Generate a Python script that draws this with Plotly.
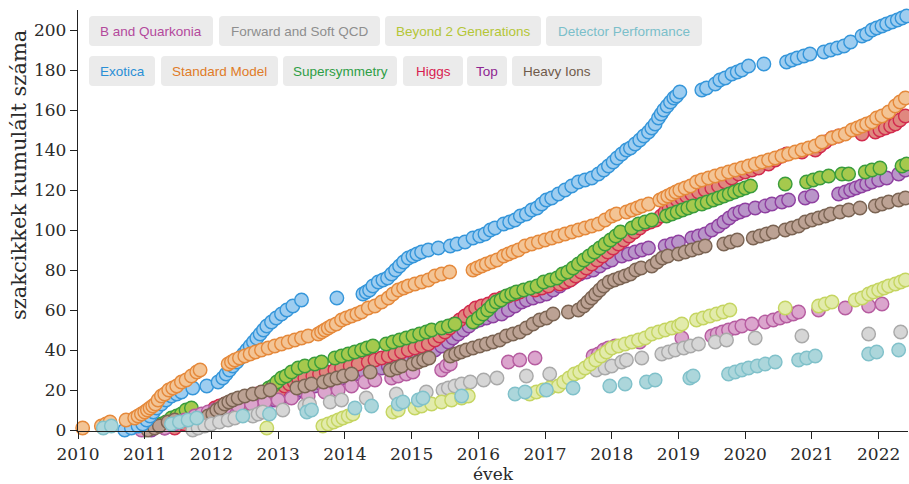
import plotly.graph_objects as go

# ---------------- data: (year, cumulative paper count) ----------------
EXOTICA = [(2010.70,0),(2010.80,1),(2010.90,2),(2010.97,3),(2011.03,5),(2011.08,7),(2011.13,9),(2011.18,11),(2011.25,13),(2011.32,15),(2011.40,17),(2011.48,18),(2011.55,19),(2011.72,21),(2011.93,22),(2012.10,24),(2012.17,26),(2012.22,28),(2012.27,30),(2012.32,32),(2012.38,34),(2012.43,36),(2012.48,38),(2012.53,40),(2012.58,42),(2012.63,44),(2012.68,46),(2012.73,48),(2012.78,50),(2012.83,52),(2012.90,54),(2012.97,56),(2013.05,58),(2013.13,60),(2013.22,62),(2013.35,65),(2013.88,66),
    (2014.27,68),(2014.32,69),(2014.37,70),(2014.42,72),(2014.50,74),(2014.57,75),(2014.64,76),(2014.70,78),(2014.76,80),(2014.82,82),(2014.88,84),(2014.95,86),(2015.02,87),(2015.08,88),(2015.15,89),(2015.25,90),(2015.40,91),
    (2015.58,92),(2015.68,93),(2015.80,94),(2015.92,96),(2016.02,97),(2016.10,98),(2016.18,100),(2016.25,101),(2016.38,103),(2016.47,104),(2016.55,105),(2016.63,107),(2016.72,108),(2016.80,110),(2016.88,111),(2016.95,113),(2017.02,115),(2017.10,116),(2017.20,118),(2017.30,120),(2017.40,122),(2017.50,124),(2017.60,125),(2017.70,126),(2017.80,128),(2017.88,130),(2017.95,132),(2018.02,134),(2018.08,136),(2018.15,138),(2018.22,140),(2018.28,141),(2018.35,143),(2018.42,145),(2018.48,147),(2018.55,149),(2018.60,151),(2018.65,153),(2018.70,156),(2018.74,158),(2018.78,160),(2018.83,162),(2018.88,164),(2018.93,166),(2018.97,167),(2019.02,169),
    (2019.35,170),(2019.42,171),(2019.55,173),(2019.62,175),(2019.70,176),(2019.80,178),(2019.88,179),(2019.95,180),(2020.05,182),(2020.28,183),
    (2020.62,184),(2020.70,185),(2020.78,186),(2020.88,187),(2020.97,188),(2021.18,189),(2021.28,190),(2021.38,191),(2021.48,192),(2021.58,194),(2021.75,197),(2021.82,198),(2021.90,200),(2021.97,201),(2022.05,202),(2022.12,203),(2022.20,204),(2022.28,205),(2022.35,206),(2022.42,207)]

STANDARD_MODEL = [(2010.07,1),(2010.35,2),(2010.42,3),(2010.48,4),(2010.72,5),(2010.85,6),(2010.90,7),(2010.95,8),(2011.00,9),(2011.04,10),(2011.08,11),(2011.12,12),(2011.16,13),(2011.20,15),(2011.25,17),(2011.30,18),(2011.36,20),(2011.42,21),(2011.48,22),(2011.55,24),(2011.62,25),(2011.70,27),(2011.78,29),(2011.83,30),
    (2012.25,33),(2012.30,34),(2012.35,35),(2012.42,36),(2012.50,37),(2012.58,38),(2012.66,39),(2012.75,40),(2012.85,41),(2012.95,42),(2013.05,43),(2013.15,44),(2013.25,45),(2013.35,46),(2013.45,47),
    (2013.60,48),(2013.65,49),(2013.70,50),(2013.75,51),(2013.80,52),(2013.87,53),(2013.95,55),(2014.02,56),(2014.10,57),(2014.18,58),(2014.25,59),(2014.35,61),(2014.45,62),(2014.55,64),(2014.65,66),(2014.72,68),(2014.80,70),(2014.88,71),(2014.95,72),(2015.05,73),(2015.15,74),(2015.25,75),(2015.35,77),(2015.45,78),(2015.57,79),
    (2015.92,80),(2015.98,81),(2016.05,82),(2016.12,83),(2016.20,84),(2016.28,85),(2016.38,87),(2016.45,88),(2016.52,89),(2016.60,90),(2016.70,92),(2016.80,93),(2016.90,94),(2017.00,95),(2017.10,96),(2017.20,97),(2017.30,98),(2017.40,99),(2017.50,100),(2017.60,101),(2017.70,102),(2017.80,103),(2017.90,105),(2018.00,107),(2018.07,108),
    (2018.22,109),(2018.30,110),(2018.38,111),(2018.45,112),(2018.55,113),
    (2018.72,115),(2018.78,116),(2018.84,117),(2018.90,118),(2018.96,119),(2019.02,120),(2019.10,121),(2019.18,122),(2019.27,124),(2019.35,125),(2019.45,126),(2019.55,127),(2019.65,128),(2019.75,129),(2019.85,130),(2019.95,131),(2020.05,132),(2020.15,133),(2020.25,134),(2020.35,135),(2020.45,136),(2020.55,137),(2020.65,138),(2020.75,139),(2020.85,140),(2020.95,141),(2021.05,142),(2021.15,144),
    (2021.30,146),(2021.40,147),(2021.50,148),(2021.60,150),(2021.68,151),(2021.75,152),(2021.82,153),(2021.90,154),(2021.97,156),(2022.05,157),(2022.15,159),(2022.25,162),(2022.32,164),(2022.40,166)]

SUPERSYMMETRY = [(2011.00,0),(2011.10,1),(2011.18,2),(2011.25,3),(2011.32,4),(2011.40,6),(2011.48,7),(2011.55,8),(2011.62,10),(2011.70,11),
    (2012.50,12),(2012.56,13),(2012.62,15),(2012.68,16),(2012.74,18),(2012.80,19),(2012.86,21),(2012.92,22),(2012.98,24),(2013.05,26),(2013.12,27),(2013.20,29),(2013.30,31),(2013.40,32),(2013.55,33),(2013.65,34),
    (2013.85,36),(2013.95,37),(2014.05,38),(2014.15,39),(2014.25,40),(2014.33,41),(2014.42,42),(2014.62,43),(2014.72,44),(2014.82,45),(2014.92,46),(2015.02,47),(2015.12,48),(2015.22,49),(2015.30,50),(2015.45,51),(2015.55,52),(2015.65,53),
    (2015.92,54),(2016.00,56),(2016.07,58),(2016.14,60),(2016.20,62),(2016.27,64),(2016.34,65),(2016.42,67),(2016.50,68),(2016.57,69),(2016.68,70),(2016.78,71),(2016.88,72),(2016.98,74),(2017.08,75),(2017.18,76),(2017.26,78),(2017.34,79),(2017.42,81),(2017.50,83),(2017.58,85),(2017.66,87),(2017.74,89),(2017.82,91),(2017.90,93),(2017.98,95),(2018.06,97),(2018.13,99),
    (2018.30,101),(2018.40,103),(2018.50,104),(2018.60,105),(2018.82,107),(2018.90,108),(2018.98,109),(2019.06,110),(2019.14,111),(2019.22,112),(2019.35,113),(2019.43,114),(2019.52,115),(2019.60,116),(2019.68,117),(2019.76,118),(2019.84,119),(2019.92,120),(2020.00,121),(2020.08,122),
    (2020.60,123),(2020.92,124),(2021.02,125),(2021.12,126),(2021.25,127),(2021.45,128),(2021.55,128),(2021.80,129),(2021.90,130),(2022.02,131),(2022.35,132),(2022.42,133)]

HIGGS = [(2011.45,1),(2011.60,3),(2011.75,5),(2011.88,7),(2011.98,9),(2012.05,11),(2012.12,12),(2012.20,13),(2012.30,14),(2012.40,15),(2012.50,16),(2012.60,17),(2012.68,18),
    (2012.97,19),(2013.03,20),(2013.10,22),(2013.17,23),(2013.24,24),(2013.31,25),(2013.40,26),(2013.52,27),(2013.62,28),(2013.72,29),(2013.85,30),(2013.95,31),(2014.08,32),(2014.20,33),(2014.35,34),(2014.45,35),(2014.55,36),(2014.65,37),(2014.75,38),(2014.85,39),(2014.95,40),(2015.05,41),(2015.15,42),(2015.25,43),(2015.35,45),(2015.42,47),(2015.50,49),(2015.57,51),(2015.64,53),(2015.72,55),(2015.80,57),(2015.88,59),(2015.96,61),(2016.05,62),(2016.15,63),(2016.25,65),(2016.35,66),(2016.45,67),(2016.55,68),(2016.62,69),
    (2016.85,70),(2016.95,71),(2017.05,72),(2017.22,73),(2017.30,74),(2017.38,75),(2017.46,77),(2017.54,79),(2017.62,81),(2017.70,83),(2017.78,85),(2017.86,87),(2017.94,89),(2018.02,91),(2018.10,93),(2018.18,95),(2018.26,97),(2018.34,99),(2018.42,101),(2018.50,103),(2018.58,104),(2018.66,105),(2018.74,107),(2018.80,109),(2018.86,111),(2018.92,113),(2018.98,115),(2019.05,116),(2019.12,117),(2019.20,118),(2019.30,119),(2019.40,120),(2019.50,121),(2019.60,122),(2019.70,124),(2019.80,126),(2019.90,128),(2020.00,129),(2020.10,130),(2020.20,131),(2020.35,133),(2020.45,135),(2020.55,137),(2020.62,138),
    (2020.85,139),(2021.05,140),(2021.12,142),(2021.20,144),(2021.30,146),(2021.40,147),(2021.75,148),(2021.95,149),(2022.02,150),(2022.10,151),(2022.18,152),(2022.25,153),(2022.32,155),(2022.40,157)]

TOP = [(2011.10,0),(2011.30,1),(2011.60,3),(2011.90,5),(2012.05,7),(2012.15,8),(2012.30,9),(2012.45,10),(2012.55,11),(2012.65,12),(2012.75,13),(2012.85,14),(2012.95,15),(2013.05,16),(2013.15,17),(2013.25,18),(2013.35,20),(2013.45,21),(2013.55,22),(2013.65,23),(2013.75,24),(2013.85,25),(2013.95,26),(2014.05,27),(2014.15,28),(2014.30,29),(2014.45,30),(2014.55,31),(2014.65,32),(2014.75,33),(2014.85,34),(2014.95,35),(2015.05,36),(2015.15,37),(2015.25,38),(2015.35,40),(2015.45,42),(2015.55,44),(2015.62,46),(2015.70,48),(2015.78,50),(2015.86,52),(2015.94,54),(2016.02,55),(2016.12,56),(2016.22,57),(2016.35,58),(2016.45,60),(2016.55,62),(2016.65,64),(2016.72,65),(2016.82,66),(2016.92,67),(2017.02,68),(2017.12,70),(2017.22,72),(2017.32,74),(2017.42,76),(2017.52,78),(2017.62,79),(2017.72,80),(2017.82,82),(2017.92,84),(2018.00,85),(2018.15,87),(2018.25,88),(2018.35,89),(2018.45,90),(2018.55,91),
    (2018.80,92),(2018.90,93),(2019.00,94),(2019.20,96),(2019.30,97),(2019.40,98),(2019.50,100),(2019.60,102),(2019.68,104),(2019.76,106),(2019.84,108),(2019.92,109),(2020.00,110),(2020.15,111),(2020.30,112),(2020.40,113),(2020.55,114),(2020.65,115),(2020.90,116),(2021.00,117),
    (2021.40,118),(2021.50,119),(2021.58,120),(2021.66,121),(2021.74,122),(2021.82,123),(2021.90,124),(2022.00,125),(2022.12,126),(2022.30,128),(2022.40,130)]

HEAVY_IONS = [(2011.05,0),(2011.15,1),(2011.22,2),(2011.35,4),(2011.45,5),(2011.95,7),(2012.02,8),(2012.08,10),(2012.14,11),(2012.20,13),(2012.26,14),(2012.32,15),(2012.40,16),(2012.50,17),(2012.62,18),(2012.75,19),(2012.88,20),
    (2013.28,21),(2013.40,22),(2013.50,23),(2013.68,24),(2013.78,25),(2013.88,26),(2013.98,27),(2014.10,28),(2014.38,29),(2014.68,30),(2014.78,31),(2014.85,32),(2015.02,33),(2015.10,34),(2015.18,35),(2015.26,36),(2015.58,37),(2015.66,38),(2015.74,39),(2015.82,40),(2015.92,41),(2016.02,42),(2016.12,43),(2016.22,44),(2016.32,45),(2016.42,47),(2016.52,48),(2016.62,49),(2016.72,51),(2016.82,53),(2016.92,55),(2017.02,56),(2017.12,58),
    (2017.35,59),(2017.50,60),(2017.58,62),(2017.64,64),(2017.70,66),(2017.76,68),(2017.82,70),(2017.88,72),(2017.96,74),(2018.04,75),(2018.12,76),(2018.20,77),(2018.28,78),(2018.36,80),(2018.44,81),(2018.60,82),(2018.68,84),(2018.76,86),(2018.84,87),(2019.00,88),(2019.10,89),(2019.20,90),(2019.30,91),(2019.40,92),(2019.68,93),(2019.78,94),(2019.88,95),
    (2020.12,96),(2020.22,97),(2020.32,98),(2020.42,99),(2020.60,100),(2020.70,101),(2020.80,102),(2020.90,104),(2021.00,105),(2021.10,106),(2021.20,107),(2021.28,108),(2021.42,109),(2021.55,110),(2021.72,111),(2021.95,112),(2022.05,113),(2022.15,114),(2022.30,115),(2022.40,116)]

B_QUARKONIA = [(2010.95,0),(2011.30,1),(2011.45,3),(2011.60,5),(2011.75,7),(2011.85,8),(2011.95,9),(2012.05,10),(2012.20,11),(2012.40,12),(2012.60,13),(2012.80,14),(2013.00,15),(2013.20,16),(2013.45,17),(2013.70,19),(2013.90,20),(2014.10,22),(2014.30,24),(2014.45,25),(2014.70,26),(2014.80,27),(2014.92,28),(2015.02,29),
    (2015.45,30),(2015.52,32),(2015.58,33),(2016.45,34),(2016.62,35),(2016.85,36),(2017.72,37),(2017.80,38),(2017.88,40),(2017.95,41),(2018.05,42),(2018.42,44),(2019.05,46),
    (2019.50,47),(2019.58,48),(2019.66,49),(2019.75,50),(2019.85,51),(2019.95,52),(2020.10,53),(2020.30,54),(2020.42,55),(2020.52,56),(2020.62,57),(2020.72,58),(2020.80,59),(2021.10,60),(2021.50,61),(2021.85,62),(2022.05,63)]

FORWARD_QCD = [(2011.72,0),(2011.80,1),(2011.90,2),(2012.00,3),(2012.12,4),(2012.25,5),(2012.35,6),(2012.62,7),(2012.70,8),(2012.77,9),(2013.07,10),(2013.40,12),(2013.47,13),(2013.78,14),(2013.95,15),(2014.32,16),(2014.77,18),(2015.22,19),(2015.47,20),(2015.55,21),(2015.65,22),(2015.75,23),(2015.88,24),(2016.08,25),(2016.28,26),(2016.72,27),(2017.07,28),
    (2017.77,30),(2017.90,31),(2018.00,32),(2018.15,34),(2018.22,35),(2018.45,36),(2018.75,38),(2018.85,39),(2018.95,40),(2019.08,41),(2019.18,42),(2019.30,43),(2019.55,44),(2019.72,45),(2020.15,46),(2020.85,47),(2021.85,48),(2022.33,49)]

BEYOND_2GEN = [(2012.83,1),(2013.67,2),(2013.75,3),(2013.83,4),(2013.90,5),(2013.97,6),(2014.05,7),(2014.12,8),(2014.72,9),(2014.80,10),(2015.05,11),(2015.15,12),(2015.30,13),(2015.45,14),(2015.60,15),(2015.75,16),(2015.85,17),
    (2016.77,18),(2016.87,19),(2016.97,20),(2017.07,21),(2017.20,22),(2017.28,24),(2017.36,26),(2017.44,28),(2017.52,29),(2017.60,31),(2017.68,33),(2017.76,35),(2017.84,37),(2017.92,39),(2018.00,41),(2018.10,42),(2018.20,43),(2018.30,44),(2018.40,45),(2018.50,46),(2018.60,48),(2018.70,49),(2018.80,50),(2018.90,51),(2019.00,52),(2019.05,53),
    (2019.27,55),(2019.37,56),(2019.47,57),(2019.57,58),(2019.67,59),(2019.77,60),(2020.60,61),(2021.10,62),(2021.20,63),(2021.30,64),(2021.65,65),(2021.75,66),(2021.85,68),(2021.92,69),(2022.00,70),(2022.08,71),(2022.15,72),(2022.25,73),(2022.33,74),(2022.40,75)]

DETECTOR_PERF = [(2010.38,1),(2010.50,2),(2011.40,3),(2011.52,4),(2011.65,5),(2011.78,6),(2012.47,7),(2012.87,8),(2013.43,9),(2013.50,10),(2014.15,11),(2014.40,12),(2014.80,13),(2014.87,14),(2015.10,15),(2015.17,16),(2015.75,17),(2016.55,18),(2016.70,19),(2017.02,20),(2017.42,21),(2017.97,22),(2018.20,23),(2018.52,24),(2018.65,25),
    (2019.17,26),(2019.22,27),(2019.75,28),(2019.85,29),(2019.95,30),(2020.05,31),(2020.18,32),(2020.30,33),(2020.45,34),(2020.80,35),(2020.92,36),(2021.05,37),(2021.85,38),(2021.97,39),(2022.30,40)]

CATEGORIES_ROW1 = ["B and Quarkonia", "Forward and Soft QCD", "Beyond 2 Generations", "Detector Performance"]
CATEGORIES_ROW2 = ["Exotica", "Standard Model", "Supersymmetry", "Higgs", "Top", "Heavy Ions"]
YEAR_TICKS = [2010, 2011, 2012, 2013, 2014, 2015, 2016, 2017, 2018, 2019, 2020, 2021, 2022]
COUNT_TICKS = [0, 20, 40, 60, 80, 100, 120, 140, 160, 180, 200]

# ---------------- style ----------------
STYLE = {  # name: (text colour, marker fill, marker outline)
    "B and Quarkonia": ("#b3499c", "#dba5cd", "#b65ca0"),
    "Forward and Soft QCD": ("#8e8e8e", "#d6d6d6", "#a9a9a9"),
    "Beyond 2 Generations": ("#b4c637", "#e2ebab", "#c5d561"),
    "Detector Performance": ("#7bbfca", "#acd6db", "#80c1ca"),
    "Exotica": ("#2a8fd6", "#9ecdf0", "#3596da"),
    "Standard Model": ("#e07b27", "#f3c495", "#e5893b"),
    "Supersymmetry": ("#2e9e45", "#a5c94d", "#3a9d3c"),
    "Higgs": ("#d81b50", "#e0887f", "#d22b4e"),
    "Top": ("#8e2591", "#b995c9", "#8f40a1"),
    "Heavy Ions": ("#6f5a4a", "#bca294", "#7b6453"),
}
SERIES = {
    "Top": TOP, "Higgs": HIGGS, "Supersymmetry": SUPERSYMMETRY, "B and Quarkonia": B_QUARKONIA,
    "Heavy Ions": HEAVY_IONS, "Forward and Soft QCD": FORWARD_QCD, "Beyond 2 Generations": BEYOND_2GEN,
    "Exotica": EXOTICA, "Standard Model": STANDARD_MODEL, "Detector Performance": DETECTOR_PERF,
}

W, H = 909, 484
ML, MR, MT, MB = 78, 1, 10, 53
PW, PH = W - ML - MR, H - MT - MB

def fx(px):
    return (px - ML) / PW

def fy(py):
    return (H - MB - py) / PH

SERIF = "DejaVu Serif"
SANS = "Liberation Sans, Arial, sans-serif"

fig = go.Figure()
for name, pts in SERIES.items():
    tc, fill, line = STYLE[name]
    fig.add_trace(go.Scatter(
        x=[p[0] for p in pts], y=[p[1] for p in pts], mode="markers", name=name,
        marker=dict(size=13.5, color=fill, line=dict(color=line, width=1.4)),
        cliponaxis=False, showlegend=False, hoverinfo="x+y+name"))

# legend-like buttons
BOX_ROW1 = [(89, 213), (219, 380), (385, 541), (546, 702)]
BOX_ROW2 = [(89, 155), (161, 278), (283, 397), (403, 463), (467, 507), (512, 602)]
shapes, annots = [], []

def rrect(x0, y0, x1, y1, r=4):
    P = lambda a, b: f"{fx(a):.5f},{fy(b):.5f}"
    return (f"M{P(x0+r,y0)} L{P(x1-r,y0)} Q{P(x1,y0)} {P(x1,y0+r)} L{P(x1,y1-r)} "
            f"Q{P(x1,y1)} {P(x1-r,y1)} L{P(x0+r,y1)} Q{P(x0,y1)} {P(x0,y1-r)} "
            f"L{P(x0,y0+r)} Q{P(x0,y0)} {P(x0+r,y0)} Z")

for names, boxes, (y0, y1) in [(CATEGORIES_ROW1, BOX_ROW1, (16, 46)), (CATEGORIES_ROW2, BOX_ROW2, (56, 86))]:
    for nm, (x0, x1) in zip(names, boxes):
        shapes.append(dict(type="path", xref="paper", yref="paper", path=rrect(x0, y0, x1, y1),
                           fillcolor="#ebebeb", line=dict(width=0), layer="above"))
        annots.append(dict(x=fx((x0 + x1) / 2), y=fy((y0 + y1) / 2), xref="paper", yref="paper",
                           text=nm, showarrow=False, xanchor="center", yanchor="middle",
                           font=dict(family=SANS, size=13.5, color=STYLE[nm][0])))

annots.append(dict(x=fx(19), y=fy(175), xref="paper", yref="paper", text="szakcikkek kumulált száma",
                   textangle=-90, showarrow=False, xanchor="center", yanchor="middle",
                   font=dict(family=SERIF, size=21, color="#2a2a2a")))
annots.append(dict(x=0.5, y=fy(485), xref="paper", yref="paper", text="évek", showarrow=False,
                   xanchor="center", yanchor="bottom", borderpad=0,
                   font=dict(family=SERIF, size=17, color="#2a2a2a")))

fig.update_layout(
    width=W, height=H, margin=dict(l=ML, r=MR, t=MT, b=MB, pad=0),
    paper_bgcolor="white", plot_bgcolor="white", showlegend=False,
    shapes=shapes, annotations=annots,
    xaxis=dict(range=[2010, 2022.44], tickvals=YEAR_TICKS, ticktext=[str(v) for v in YEAR_TICKS],
               showgrid=False, zeroline=False, showline=True, linecolor="#222", linewidth=1.3,
               ticks="outside", ticklen=7, tickwidth=1.3, tickcolor="#222",
               tickfont=dict(family=SERIF, size=17, color="#2a2a2a")),
    yaxis=dict(range=[-0.5, 210], tickvals=COUNT_TICKS, showgrid=False, zeroline=False,
               showline=True, linecolor="#222", linewidth=1.3, ticks="outside", ticklen=7,
               tickwidth=1.3, tickcolor="#222", tickfont=dict(family=SERIF, size=17, color="#2a2a2a")),
)

fig.write_html("out.html", config={"displayModeBar": False},
               post_script="document.body.style.margin='0';document.body.style.overflow='hidden';")
